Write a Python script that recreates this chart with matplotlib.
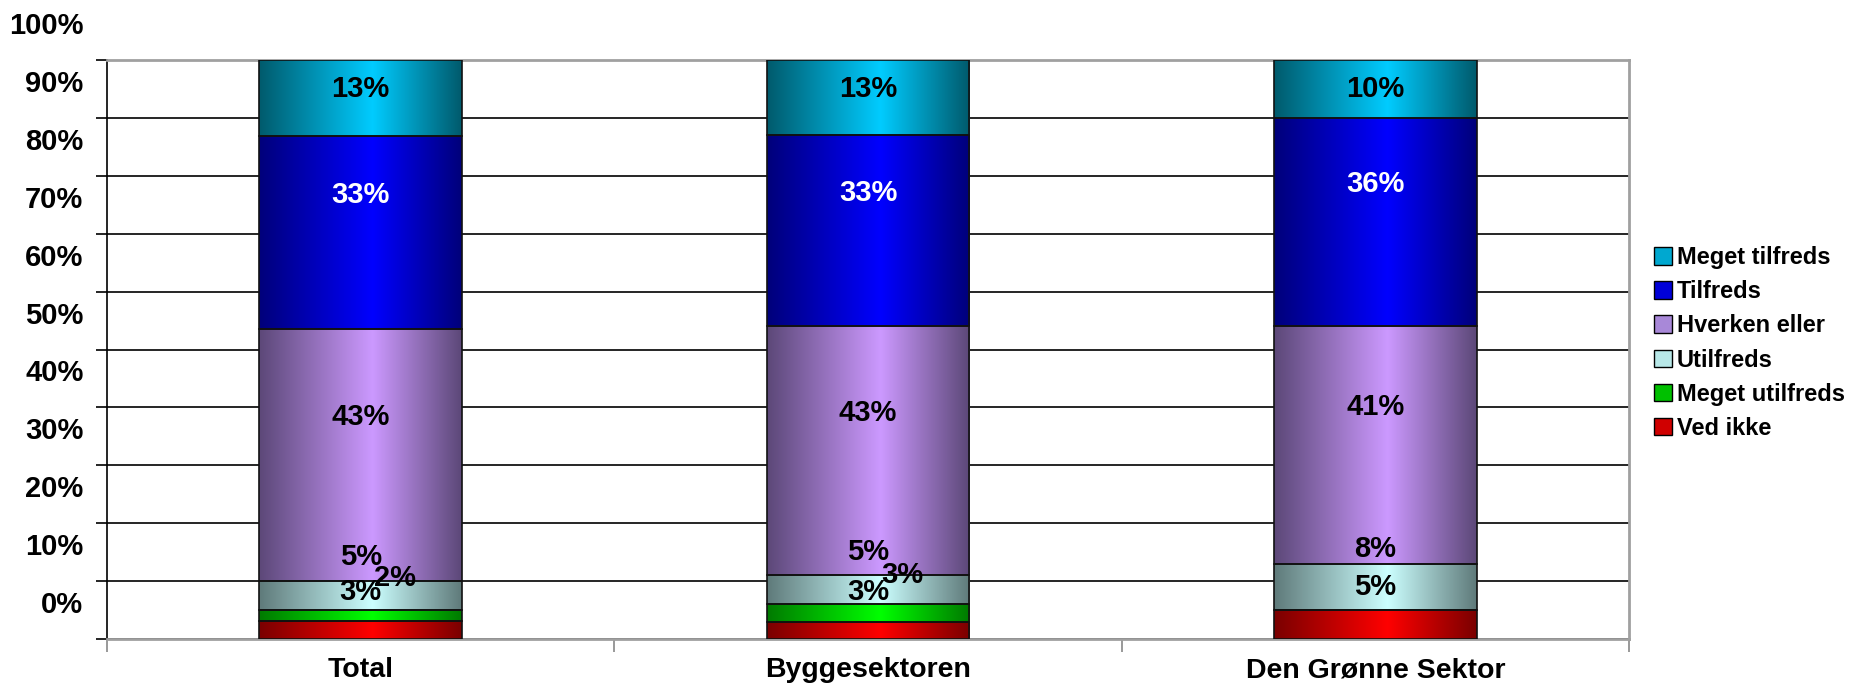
import matplotlib.pyplot as plt
import numpy as np
from matplotlib.colors import to_rgb
from matplotlib.patches import Patch
from matplotlib.transforms import ScaledTranslation

plt.rcParams['font.family'] = ['Liberation Sans', 'DejaVu Sans']
plt.rcParams['font.weight'] = 'bold'

grupper = ["Total", "Byggesektoren", "Den Grønne Sektor"]
svar = ["Ved ikke", "Meget utilfreds", "Utilfreds", "Hverken eller", "Tilfreds", "Meget tilfreds"]

# procent pr. svarkategori (nederst -> øverst)
ved_ikke = [3, 3, 5]
meget_utilfreds = [2, 3, 0]
utilfreds = [5, 5, 8]
hverken_eller = [43, 43, 41]
tilfreds = [33, 33, 36]
meget_tilfreds = [13, 13, 10]

y_ticks = [0, 10, 20, 30, 40, 50, 60, 70, 80, 90, 100]
y_labels = ["0%", "10%", "20%", "30%", "40%", "50%", "60%", "70%", "80%", "90%", "100%"]

serier = [ved_ikke, meget_utilfreds, utilfreds, hverken_eller, tilfreds, meget_tilfreds]
farver_lys = ["#ff0000", "#00ff00", "#ccffff", "#cc99ff", "#0000ff", "#00ccff"]
farver_moerk = ["#7a0000", "#007a00", "#5f7a7a", "#5c4878", "#00007a", "#005a6c"]
farver_legend = ["#d00000", "#00c000", "#b8e8e8", "#a888d8", "#0000d8", "#00a8d0"]
tekstfarve = ["black", "black", "black", "black", "white", "black"]

fig = plt.figure(figsize=(18.61, 6.85), dpi=100)
ax = fig.add_axes([107 / 1861, 46 / 685, 1522 / 1861, 579 / 685])

x = np.arange(len(grupper))
summer = np.sum(np.array(serier, dtype=float), axis=0)
bund = np.zeros(len(grupper))
dpi = fig.dpi


def gradient(lys, moerk, n=256, top=0.56):
    t = np.linspace(0, 1, n)
    w = np.where(t < top, t / top, (1 - t) / (1 - top))
    lys = np.array(to_rgb(lys))
    moerk = np.array(to_rgb(moerk))
    return (moerk[None, :] + (lys - moerk)[None, :] * w[:, None])[None, :, :]


for i, vaerdier in enumerate(serier):
    h = np.array(vaerdier, dtype=float) / summer * 100
    rects = ax.bar(x, h, bottom=bund, width=0.4, facecolor='none',
                   edgecolor='#111111', linewidth=1.2, zorder=4)
    grad = gradient(farver_lys[i], farver_moerk[i])
    for j, r in enumerate(rects):
        if vaerdier[j] == 0:
            continue
        ax.imshow(grad, extent=[r.get_x(), r.get_x() + r.get_width(),
                                r.get_y(), r.get_y() + r.get_height()],
                  aspect='auto', interpolation='bilinear', zorder=3)
        dx = 34 if i == 1 else 0
        if i == len(serier) - 1:
            # øverste etiket holdes inde i plotområdet
            ypos, dy = bund[j] + h[j], -29
        else:
            ypos, dy = bund[j] + h[j] / 2, 38
        ax.annotate(f"{vaerdier[j]}%", (x[j], ypos), xytext=(dx * 0.72, dy * 0.72),
                    textcoords='offset points', ha='center', va='center',
                    fontsize=21, fontweight='bold', color=tekstfarve[i], zorder=6)
    bund += h

ax.set_xlim(-0.5, 2.5)
ax.set_ylim(0, 100)

ax.set_yticks(y_ticks)
ax.set_yticklabels(y_labels, fontsize=21, fontweight='bold')
ax.tick_params(axis='y', length=8, width=1.2, pad=9, color='black')
flyt = ScaledTranslation(0, 37 / dpi, fig.dpi_scale_trans)
for lbl in ax.get_yticklabels():
    lbl.set_transform(lbl.get_transform() + flyt)

ax.set_xticks([-0.5, 0.5, 1.5, 2.5])
ax.set_xticklabels([])
ax.tick_params(axis='x', which='major', length=9, width=1.2, color='#888888')
ax.set_xticks(x, minor=True)
ax.set_xticklabels(grupper, minor=True, fontsize=20.5, fontweight='bold')
ax.tick_params(axis='x', which='minor', length=0, pad=13)

ax.yaxis.grid(True, color='black', linewidth=1.2, zorder=0)
ax.set_axisbelow(True)
for s in ['top', 'right', 'bottom']:
    ax.spines[s].set_color('#a0a0a0')
    ax.spines[s].set_linewidth(2)
ax.spines['left'].set_color('black')
ax.spines['left'].set_linewidth(1.2)

handles = [Patch(facecolor=farver_legend[i], edgecolor='black', linewidth=1)
           for i in range(len(svar))][::-1]
fig.legend(handles, svar[::-1], loc='center left', bbox_to_anchor=(1654 / 1861, 0.4993),
           frameon=False, handlelength=0.76, handleheight=0.76,
           handletextpad=0.2, labelspacing=0.47, borderpad=0, borderaxespad=0,
           prop={'weight': 'bold', 'size': 17})

fig.savefig("out.png", dpi=100)
